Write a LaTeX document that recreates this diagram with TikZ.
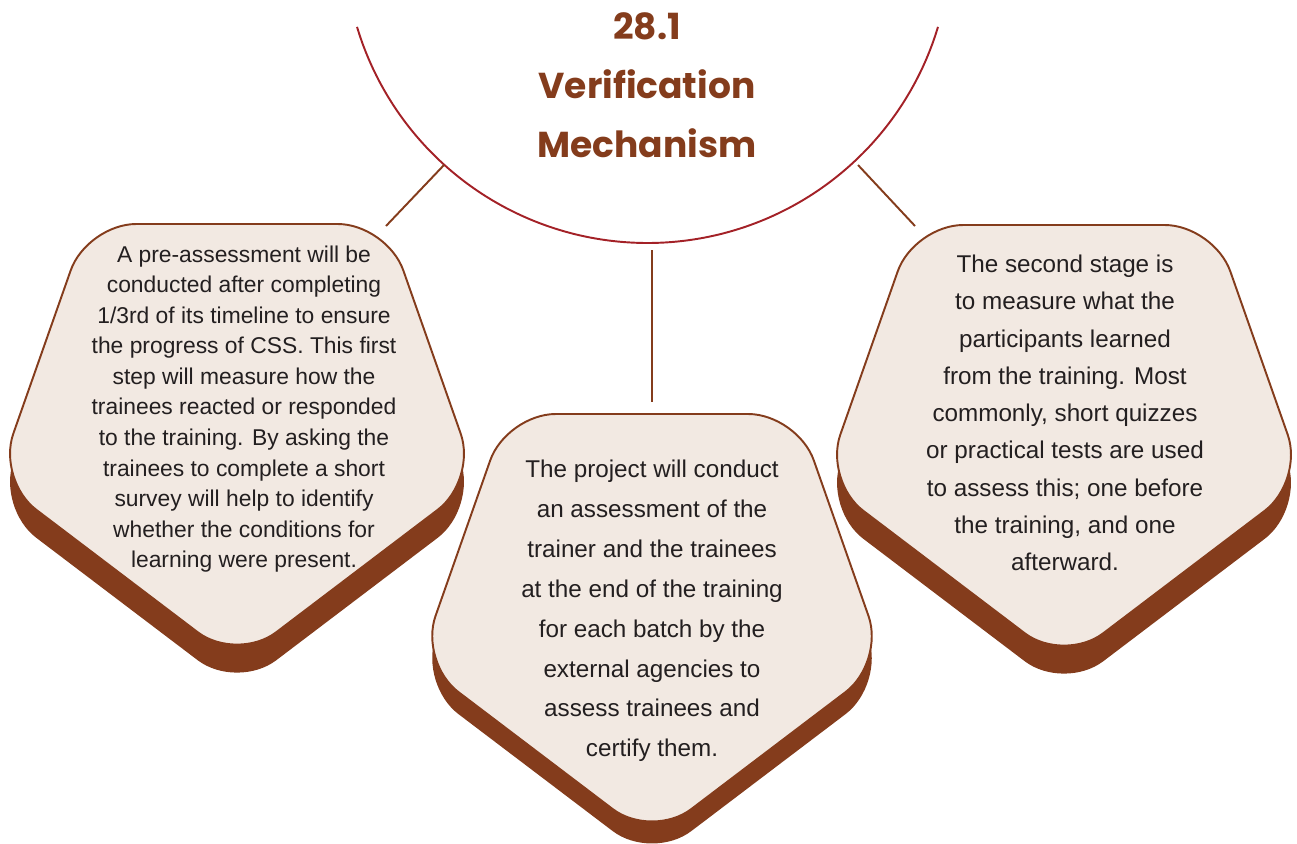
\documentclass[tikz,border=0pt]{standalone}
\usepackage{fontspec}
\setmainfont{Liberation Sans}
\newfontfamily\titlefont{Poppins}
\usepackage{xcolor}
\usepackage{tikz}
\definecolor{rust}{HTML}{843C1C}
\definecolor{arcred}{HTML}{A32127}
\definecolor{cream}{HTML}{F2E9E2}
\definecolor{ink}{HTML}{231F20}
\tikzset{shadowbox/.style={fill=rust, rounded corners=28pt}, facebox/.style={fill=cream, draw=rust, line width=1.1pt, rounded corners=28pt}, link/.style={draw=rust, line width=1.1pt}, bodytext/.style={text=ink, align=center, inner sep=0pt}}
\newcommand{\pentpath}[3]{(#1-150*#3,#2) -- (#1+150*#3,#2) -- (#1+240*#3,#2+256*#3) -- (#1,#2+438*#3) -- (#1-240*#3,#2+256*#3) -- cycle}

\begin{document}
\begin{tikzpicture}[x=0.02cm, y=-0.02cm]
\useasboundingbox (0,0) rectangle (1297,843);
\draw[arcred, line width=1.1pt] plot[domain=163.3:16.7, samples=90, smooth] ({647.5+303.3*cos(\x)},{-60.3+303.3*sin(\x)});
\node[text=rust, font=\titlefont\bfseries\fontsize{20.5}{33.5}\selectfont, align=center] (title) at (647,85) {28.1\\Verification\\Mechanism};
\coordinate (arcL) at (444,165);
\coordinate (arcM) at (652,250);
\coordinate (arcR) at (858,165);
\coordinate (boxL) at (386,226);
\coordinate (boxM) at (652,402);
\coordinate (boxR) at (915,226);
\draw[link] (arcL) -- (boxL);
\draw[link] (arcM) -- (boxM);
\draw[link] (arcR) -- (boxR);
\fill[shadowbox, shift={(0,28)}] \pentpath{237}{224}{1};
\draw[facebox] \pentpath{237}{224}{1};
\fill[shadowbox, shift={(0,28)}] \pentpath{1064}{225}{1};
\draw[facebox] \pentpath{1064}{225}{1};
\fill[shadowbox, shift={(0,22)}] \pentpath{652}{414}{0.97};
\draw[facebox] \pentpath{652}{414}{0.97};
\node[bodytext, font=\fontsize{13}{17.4}\selectfont] (stepOne) at (244,409) {A pre-assessment will be\\conducted after completing\\1/3rd of its timeline to ensure\\the progress of CSS. This first\\step will measure how the\\trainees reacted or responded\\to the training. By asking the\\trainees to complete a short\\survey will help to identify\\whether the conditions for\\learning were present.};
\node[bodytext, font=\fontsize{13.8}{22.7}\selectfont] (stepThree) at (652,611) {The project will conduct\\an assessment of the\\trainer and the trainees\\at the end of the training\\for each batch by the\\external agencies to\\assess trainees and\\certify them.};
\node[bodytext, font=\fontsize{13.8}{21.2}\selectfont] (stepTwo) at (1065,413) {The second stage is\\to measure what the\\participants learned\\from the training. Most\\commonly, short quizzes\\or practical tests are used\\to assess this; one before\\the training, and one\\afterward.};
\end{tikzpicture}
\end{document}
